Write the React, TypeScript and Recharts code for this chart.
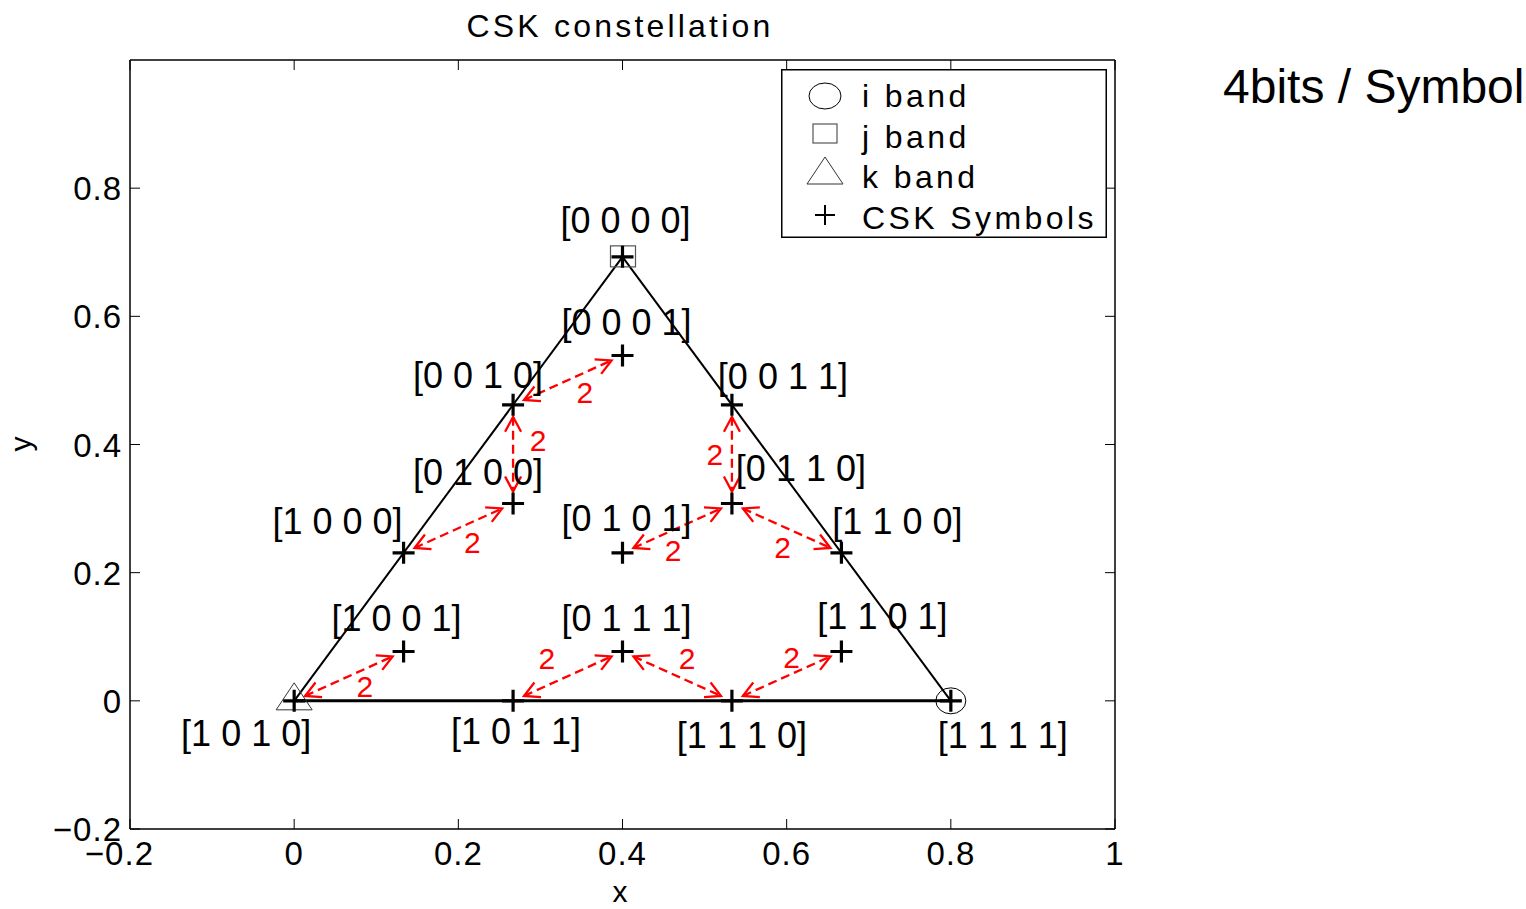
import React from 'react';
import { ComposedChart, Scatter, XAxis, YAxis, ReferenceLine, Legend } from 'recharts';

// ---------- data ----------
const symbolLabels = [
  '[0 0 0 0]', '[0 0 0 1]', '[0 0 1 0]', '[0 0 1 1]',
  '[0 1 0 0]', '[0 1 0 1]', '[0 1 1 0]', '[0 1 1 1]',
  '[1 0 0 0]', '[1 0 0 1]', '[1 0 1 0]', '[1 0 1 1]',
  '[1 1 0 0]', '[1 1 0 1]', '[1 1 1 0]', '[1 1 1 1]',
];
const symbolX = [0.4, 0.4, 0.2667, 0.5333, 0.2667, 0.4, 0.5333, 0.4, 0.1333, 0.1333, 0, 0.2667, 0.6667, 0.6667, 0.5333, 0.8];
const symbolY = [0.6928, 0.5389, 0.4619, 0.4619, 0.3079, 0.2309, 0.3079, 0.077, 0.2309, 0.077, 0, 0, 0.2309, 0.077, 0, 0];

const gamutX = [0, 0.4, 0.8, 0];
const gamutY = [0, 0.6928, 0, 0];

const iBand = [{ x: 0.8, y: 0 }];
const jBand = [{ x: 0.4, y: 0.6928 }];
const kBand = [{ x: 0, y: 0 }];

const arrowFrom = ['[1 0 1 0]', '[0 0 1 0]', '[0 0 1 0]', '[1 0 0 0]', '[0 1 0 1]', '[0 0 1 1]', '[0 1 1 0]', '[1 0 1 1]', '[0 1 1 1]', '[1 1 1 0]'];
const arrowTo = ['[1 0 0 1]', '[0 0 0 1]', '[0 1 0 0]', '[0 1 0 0]', '[0 1 1 0]', '[0 1 1 0]', '[1 1 0 0]', '[0 1 1 1]', '[1 1 1 0]', '[1 1 0 1]'];
const arrowText = ['2', '2', '2', '2', '2', '2', '2', '2', '2', '2'];

const xTicks = [-0.2, 0, 0.2, 0.4, 0.6, 0.8, 1];
const yTicks = [-0.2, 0, 0.2, 0.4, 0.6, 0.8];

const legendNames = ['i band', 'j band', 'k band', 'CSK Symbols'];

// ---------- layout (pixel offsets, styles) ----------
const symbolLabelOffset: [number, number][] = [
  [3, -37], [4, -33], [-35, -30], [51, -29],
  [-35, -32], [4, -35], [69, -36], [4, -33],
  [-66, -32], [-7, -33], [-48, 32], [3, 30],
  [56, -32], [41, -35], [10, 34], [52, 34],
];
const arrowLabelOffset: [number, number][] = [
  [16, 10], [17, 12], [25, -14], [14, 14], [-4, 22], [-17, 0], [-4, 19], [-21, -18], [10, -18], [5, -19],
];
const edgeWidths = [2, 2, 3];

const FONT = '"Liberation Sans", Arial, sans-serif';

const symbols = symbolLabels.map((label, i) => ({ x: symbolX[i], y: symbolY[i], label, idx: i }));
const idxOf = (l: string) => symbolLabels.indexOf(l);

const fmt = (v: number) => (v < 0 ? '\u2212' : '') + String(Math.abs(v));

const XTick = (p: any) => {
  const v = p.payload.value;
  const neg = v < 0;
  return (
    <text x={neg ? p.x + 24 : p.x} y={p.y + 36} textAnchor={neg ? 'end' : 'middle'} fontSize={33}
      fontFamily={FONT} fill="#000" letterSpacing={1}>{fmt(v)}</text>
  );
};
const YTick = (p: any) => {
  const v = p.payload.value;
  return (
    <text x={p.x} y={p.y + 12} textAnchor="end" fontSize={33} fontFamily={FONT} fill="#000" letterSpacing={1}>{fmt(v)}</text>
  );
};
const NoTick = () => <g />;

const PlusShape = (p: any) => (
  <path d={`M${p.cx - 11},${p.cy}H${p.cx + 11}M${p.cx},${p.cy - 11}V${p.cy + 11}`} stroke="#000" strokeWidth={3.2} fill="none" />
);
const CircleShape = (p: any) => <ellipse cx={p.cx} cy={p.cy} rx={15} ry={13} fill="none" stroke="#000" strokeWidth={1} />;
const SquareShape = (p: any) => <rect x={p.cx - 12} y={p.cy - 11} width={25} height={21} fill="none" stroke="#555" strokeWidth={1.2} />;
const TriangleShape = (p: any) => (
  <path d={`M${p.cx},${p.cy - 18}L${p.cx + 18},${p.cy + 9}L${p.cx - 18},${p.cy + 9}Z`} fill="none" stroke="#333" strokeWidth={1} />
);
const LabelShape = (p: any) => {
  const [dx, dy] = symbolLabelOffset[p.payload.idx];
  return (
    <text x={p.cx + dx} y={p.cy + dy + 13} textAnchor="middle" fontSize={36} fontFamily={FONT} fill="#000">
      {p.payload.label}
    </text>
  );
};

const makeArrow = (i: number) => (props: any) => {
  const { x1, y1, x2, y2 } = props;
  const len = Math.hypot(x2 - x1, y2 - y1);
  const ux = (x2 - x1) / len;
  const uy = (y2 - y1) / len;
  const gap = 12;
  const ax = x1 + ux * gap, ay = y1 + uy * gap, bx = x2 - ux * gap, by = y2 - uy * gap;
  const head = (tx: number, ty: number, dx: number, dy: number) => {
    const hl = 15, hw = 8;
    const bx0 = tx - dx * hl, by0 = ty - dy * hl;
    const px = -dy, py = dx;
    return `M${bx0 + px * hw},${by0 + py * hw}L${tx},${ty}L${bx0 - px * hw},${by0 - py * hw}`;
  };
  const mx = (x1 + x2) / 2 + arrowLabelOffset[i][0];
  const my = (y1 + y2) / 2 + arrowLabelOffset[i][1];
  return (
    <g>
      <line x1={ax} y1={ay} x2={bx} y2={by} stroke="#ff0000" strokeWidth={2.3} strokeDasharray="9 5" />
      <path d={head(ax, ay, -ux, -uy)} stroke="#ff0000" strokeWidth={2.3} fill="none" />
      <path d={head(bx, by, ux, uy)} stroke="#ff0000" strokeWidth={2.3} fill="none" />
      <text x={mx} y={my + 11} textAnchor="middle" fontSize={30} fontFamily={FONT} fill="#ff0000">{arrowText[i]}</text>
    </g>
  );
};

const legendMarkers = [
  (cx: number, cy: number) => <ellipse cx={cx} cy={cy} rx={16} ry={13} fill="none" stroke="#000" strokeWidth={1} />,
  (cx: number, cy: number) => <rect x={cx - 12} y={cy - 10} width={24} height={19} fill="none" stroke="#555" strokeWidth={1.2} />,
  (cx: number, cy: number) => <path d={`M${cx},${cy - 14}L${cx + 18},${cy + 13}L${cx - 18},${cy + 13}Z`} fill="none" stroke="#333" strokeWidth={1} />,
  (cx: number, cy: number) => <path d={`M${cx - 10},${cy}H${cx + 10}M${cx},${cy - 10}V${cy + 10}`} stroke="#000" strokeWidth={2} fill="none" />,
];
const legendMarkerY = [27, 65, 102, 146];
const legendTextY = [38, 79, 119, 160];

const LegendBox = () => (
  <svg width={326} height={169} style={{ display: 'block' }}>
    <rect x={0.75} y={0.75} width={324.5} height={167.5} fill="#fff" stroke="#000" strokeWidth={1.5} />
    {legendNames.map((n, i) => (
      <g key={n}>
        {legendMarkers[i](44, legendMarkerY[i])}
        <text x={81} y={legendTextY[i]} fontSize={32} fontFamily={FONT} letterSpacing={3.4} fill="#000">{n}</text>
      </g>
    ))}
  </svg>
);

export default function App() {
  return (
    <div style={{ position: 'absolute', left: 0, top: 0, width: 1526, height: 909, background: '#fff' }}>
      <ComposedChart width={1526} height={909} margin={{ top: 59, right: 410, bottom: 40, left: 70 }}>
        <XAxis xAxisId={0} type="number" dataKey="x" domain={[-0.2, 1]} ticks={xTicks} interval={0}
          allowDataOverflow orientation="bottom" height={40} tickSize={-10} tickMargin={10}
          tick={<XTick />} stroke="#000" axisLine={{ stroke: '#000', strokeWidth: 1.5 }} tickLine={{ stroke: '#000' }} />
        <XAxis xAxisId="top" type="number" dataKey="x" domain={[-0.2, 1]} ticks={xTicks} interval={0}
          allowDataOverflow orientation="top" height={1} tickSize={-10} tick={<NoTick />}
          axisLine={{ stroke: '#000', strokeWidth: 1.5 }} tickLine={{ stroke: '#000' }} />
        <YAxis yAxisId={0} type="number" dataKey="y" domain={[-0.2, 1]} ticks={yTicks} interval={0}
          allowDataOverflow orientation="left" width={60} tickSize={-10} tickMargin={18}
          tick={<YTick />} axisLine={{ stroke: '#000', strokeWidth: 1.5 }} tickLine={{ stroke: '#000' }} />
        <YAxis yAxisId="right" type="number" dataKey="y" domain={[-0.2, 1]} ticks={yTicks} interval={0}
          allowDataOverflow orientation="right" width={1} tickSize={-10} tick={<NoTick />}
          axisLine={{ stroke: '#000', strokeWidth: 1.5 }} tickLine={{ stroke: '#000' }} />

        {edgeWidths.map((w, i) => (
          <ReferenceLine key={`edge${i}`} segment={[{ x: gamutX[i], y: gamutY[i] }, { x: gamutX[i + 1], y: gamutY[i + 1] }]}
            stroke="#000" strokeWidth={w} ifOverflow="visible" />
        ))}

        <Scatter name="i band" data={iBand} shape={<CircleShape />} isAnimationActive={false} />
        <Scatter name="j band" data={jBand} shape={<SquareShape />} isAnimationActive={false} />
        <Scatter name="k band" data={kBand} shape={<TriangleShape />} isAnimationActive={false} />
        <Scatter name="CSK Symbols" data={symbols} shape={<PlusShape />} isAnimationActive={false} />
        <Scatter name="labels" legendType="none" data={symbols} shape={<LabelShape />} isAnimationActive={false} />

        {arrowFrom.map((f, i) => {
          const a = idxOf(f);
          const b = idxOf(arrowTo[i]);
          return (
            <ReferenceLine key={`arr${i}`} segment={[{ x: symbolX[a], y: symbolY[a] }, { x: symbolX[b], y: symbolY[b] }]}
              ifOverflow="visible" shape={makeArrow(i)} />
          );
        })}

        <Legend layout="horizontal" verticalAlign="middle" align="center" width={326} height={169}
          wrapperStyle={{ left: 781, top: 69, width: 326, height: 169 }} content={() => <LegendBox />} />

        <text x={620} y={37} textAnchor="middle" fontSize={32} fontFamily={FONT} letterSpacing={3.2} fill="#000">CSK constellation</text>
        <text x={620} y={902} textAnchor="middle" fontSize={30} fontFamily={FONT} fill="#000">x</text>
        <text transform="translate(31,444) rotate(-90)" textAnchor="middle" fontSize={30} fontFamily={FONT} fill="#000">y</text>
        <text x={1223} y={103} fontSize={48} fontFamily={FONT} fill="#000">4bits / Symbol</text>
      </ComposedChart>
    </div>
  );
}
